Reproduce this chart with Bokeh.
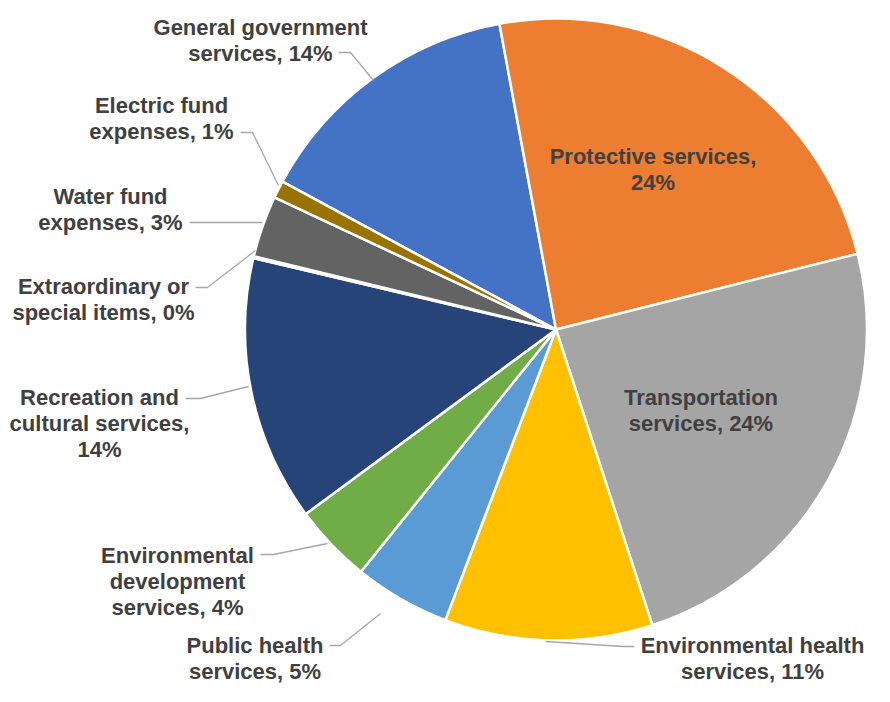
import math
from bokeh.plotting import figure
from bokeh.models import Range1d, ColumnDataSource
from bokeh.embed import file_html
from bokeh.resources import INLINE
from bokeh.core.properties import value

# ---------------- data ----------------
categories = [
    "General government services",
    "Protective services",
    "Transportation services",
    "Environmental health services",
    "Public health services",
    "Environmental development services",
    "Recreation and cultural services",
    "Extraordinary or special items",
    "Water fund expenses",
    "Electric fund expenses",
]
shares = [14.2, 24.0, 23.9, 10.8, 5.0, 4.1, 13.8, 0.1, 3.2, 0.9]
pct_labels = ["14%", "24%", "24%", "11%", "5%", "4%", "14%", "0%", "3%", "1%"]
label_lines = [
    ["General government", "services, 14%"],
    ["Protective services,", "24%"],
    ["Transportation", "services, 24%"],
    ["Environmental health", "services, 11%"],
    ["Public health", "services, 5%"],
    ["Environmental", "development", "services, 4%"],
    ["Recreation and", "cultural services,", "14%"],
    ["Extraordinary or", "special items, 0%"],
    ["Water fund", "expenses, 3%"],
    ["Electric fund", "expenses, 1%"],
]
colors = ["#4472C4", "#ED7D31", "#A5A5A5", "#FFC000", "#5B9BD5",
          "#70AD47", "#264478", "#9E480E", "#636363", "#997300"]

# ---------------- layout (pixel positions, image coords) ----------------
W, H = 874, 686
CX, CY, R = 555.5, 329.0, 311.0
FIRST_ANGLE = 298.4  # compass degrees, clockwise from 12 o'clock
FONT_PX = 22
LINE_GAP = 26.2

# (center x, first baseline y) for each label
label_pos = [
    (260, 27), (652.5, 156), (700.5, 397), (752, 645), (254.5, 645),
    (177, 555), (99, 397), (103, 286), (110, 196), (161, 105),
]
leaders = [
    [(338, 52), (350, 52), (373, 80)],
    None,
    None,
    [(634, 646), (623, 646), (545, 641)],
    [(329, 645), (340, 645), (380, 613)],
    [(260, 554), (273, 554), (327, 543)],
    [(185, 398), (200, 398), (248, 386)],
    [(195, 287), (207, 287), (255, 250)],
    [(189, 222), (262, 222)],
    [(240, 132), (252, 132), (278, 185)],
]


def Y(v):
    return H - v


p = figure(width=W, height=H, output_backend="svg", toolbar_location=None,
           x_range=Range1d(0, W), y_range=Range1d(0, H),
           x_axis_location=None, y_axis_location=None, min_border=0,
           background_fill_color="white", border_fill_color="white")
p.grid.visible = False
p.outline_line_color = None

# wedges
total = sum(shares)
starts, ends = [], []
acc = FIRST_ANGLE
for s in shares:
    a0 = acc
    a1 = acc + s / total * 360.0
    starts.append(math.radians(90 - a0))
    ends.append(math.radians(90 - a1))
    acc = a1

src = ColumnDataSource(dict(start=starts, end=ends, color=colors, cat=categories))
p.wedge(x=CX, y=Y(CY), radius=R, start_angle="start", end_angle="end",
        direction="clock", fill_color="color", line_color="white",
        line_width=2.5, source=src)

# leader lines
xs, ys = [], []
for ld in leaders:
    if ld is None:
        continue
    xs.append([pt[0] for pt in ld])
    ys.append([Y(pt[1]) for pt in ld])
p.multi_line(xs=xs, ys=ys, line_color="#A6A6A6", line_width=1.3)

# labels
tx, ty, tt = [], [], []
for lines, (lx, ly) in zip(label_lines, label_pos):
    for k, ln in enumerate(lines):
        tx.append(lx)
        ty.append(Y(ly + k * LINE_GAP))
        tt.append(ln)
p.text(x=tx, y=ty, text=tt, text_font=value("Liberation Sans"),
       text_font_style="bold", text_font_size=f"{FONT_PX}px",
       text_color="#404040", text_align="center", text_baseline="alphabetic")

open("out.html", "w").write(file_html(p, INLINE))
